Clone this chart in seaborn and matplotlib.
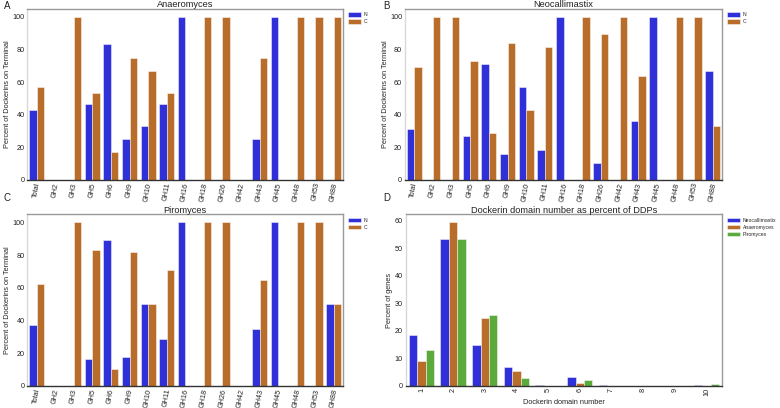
import matplotlib
matplotlib.use("Agg")
import matplotlib.pyplot as plt
import pandas as pd
import seaborn as sns

families = ["Total", "GH2", "GH3", "GH5", "GH6", "GH9", "GH10", "GH11", "GH16",
            "GH18", "GH26", "GH42", "GH43", "GH45", "GH48", "GH53", "GH88"]

anaero_n = [43, 0, 0, 46.7, 83, 25, 33.3, 46.7, 100, 0, 0, 0, 25, 100, 0, 0, 0]
anaero_c = [57, 0, 100, 53.3, 17, 75, 66.7, 53.3, 0, 100, 100, 0, 75, 0, 100, 100, 100]

neo_n = [31, 0, 0, 27, 71, 16, 57, 18.5, 100, 0, 10.5, 0, 36.4, 100, 0, 0, 66.7]
neo_c = [69, 100, 100, 73, 29, 84, 43, 81.5, 0, 100, 89.5, 100, 63.6, 0, 100, 100, 33.3]

piro_n = [37.5, 0, 0, 16.7, 89.5, 18, 50, 29, 100, 0, 0, 0, 35, 100, 0, 0, 50]
piro_c = [62.5, 0, 100, 83.3, 10.5, 82, 50, 71, 0, 100, 100, 0, 65, 0, 100, 100, 50]

domain_numbers = ["1", "2", "3", "4", "5", "6", "7", "8", "9", "10"]
neo_domains = [18.6, 53.5, 15.0, 6.8, 0.4, 3.3, 0.4, 0, 0, 0.4]
anaero_domains = [8.9, 59.4, 24.7, 5.4, 0, 1.0, 0, 0, 0, 0]
piro_domains = [13.1, 53.5, 25.8, 3.0, 0, 2.2, 0, 0, 0, 0.8]

blue = "#3030d8"
orange = "#b86e2a"
green = "#5aaa3c"

sns.set_theme(style="white")
plt.rcParams["font.family"] = ["Liberation Sans", "DejaVu Sans"]

fig = plt.figure(figsize=(7.8, 4.08), dpi=100)

positions = {
    "A": [0.035, 0.559, 0.405, 0.42],
    "B": [0.519, 0.559, 0.407, 0.42],
    "C": [0.035, 0.054, 0.405, 0.421],
    "D": [0.520, 0.054, 0.406, 0.421],
}


def style_axes(ax, title):
    ax.set_title(title, fontsize=6.7, pad=0.8, color="#222222")
    ax.spines["left"].set_color("#d8d8d8")
    ax.spines["top"].set_color("#999999")
    ax.spines["right"].set_color("#999999")
    ax.spines["bottom"].set_color("#333333")
    for s in ax.spines.values():
        s.set_linewidth(1.0)
    ax.tick_params(axis="both", length=0, pad=2, labelsize=5.2, colors="#222222")
    ax.tick_params(axis="x", pad=1.5)


def add_legend(ax):
    ax.legend(loc="upper left", bbox_to_anchor=(1.005, 1.0), frameon=False,
              fontsize=3.7, handlelength=2.4, handleheight=0.9, handletextpad=0.6,
              borderaxespad=0.3, labelspacing=0.4)


def terminal_panel(key, title, n_vals, c_vals):
    ax = fig.add_axes(positions[key])
    df = pd.DataFrame({
        "family": families * 2,
        "terminal": ["N"] * len(families) + ["C"] * len(families),
        "percent": n_vals + c_vals,
    })
    sns.barplot(data=df, x="family", y="percent", hue="terminal",
                palette=[blue, orange], saturation=1, ax=ax,
                edgecolor=(1, 1, 1, 0.55), linewidth=0.6)
    style_axes(ax, title)
    ax.set_xlabel("")
    ax.set_ylabel("Percent of Dockerins on Terminal", fontsize=5.3, labelpad=1)
    ax.set_yticks([0, 20, 40, 60, 80, 100])
    for lbl in ax.get_xticklabels():
        lbl.set_rotation(80)
    add_legend(ax)
    return ax


terminal_panel("A", "Anaeromyces", anaero_n, anaero_c)
terminal_panel("B", "Neocallimastix", neo_n, neo_c)
terminal_panel("C", "Piromyces", piro_n, piro_c)

axd = fig.add_axes(positions["D"])
ddf = pd.DataFrame({
    "domains": domain_numbers * 3,
    "genus": ["Neocallimastix"] * 10 + ["Anaeromyces"] * 10 + ["Piromyces"] * 10,
    "percent": neo_domains + anaero_domains + piro_domains,
})
sns.barplot(data=ddf, x="domains", y="percent", hue="genus",
            palette=[blue, orange, green], saturation=1, ax=axd,
            edgecolor=(1, 1, 1, 0.55), linewidth=0.6)
style_axes(axd, "Dockerin domain number as percent of DDPs")
axd.set_xlabel("Dockerin domain number", fontsize=5.3, labelpad=2)
axd.set_ylabel("Percent of genes", fontsize=5.3, labelpad=1)
for lbl in axd.get_xticklabels():
    lbl.set_rotation(90)
add_legend(axd)

for letter, (x, y) in {"A": (4, 6), "B": (383, 6), "C": (4, 198), "D": (383, 198)}.items():
    fig.text(x / 780, 1 - y / 408, letter, fontsize=7, ha="left", va="center",
             color="#222222")

fig.savefig("out.png", dpi=100)
